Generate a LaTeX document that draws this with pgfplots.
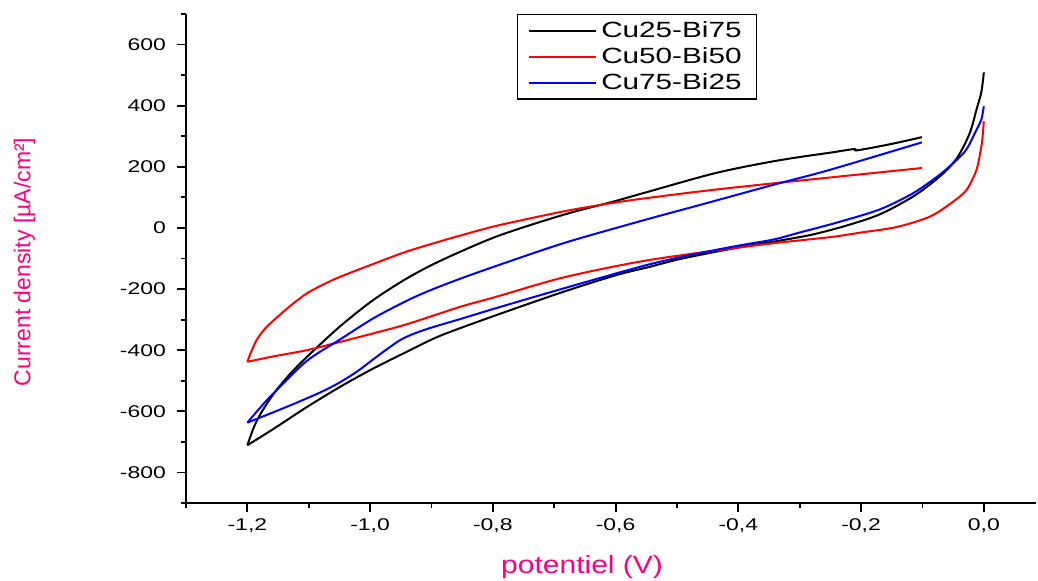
\documentclass[border=0pt]{standalone}
\usepackage{fontspec}
\setmainfont{Liberation Sans}
\newfontfamily\widefont[FakeStretch=1.35]{Liberation Sans}
\newfontfamily\labfont[FakeStretch=1.2]{Liberation Sans}
\usepackage{pgfplots}
\pgfplotsset{compat=1.18}
\definecolor{lblpink}{RGB}{255,0,128}
\definecolor{cvred}{RGB}{255,0,0}
\definecolor{cvblue}{RGB}{0,0,255}
\begin{document}
\begin{tikzpicture}
\path[use as bounding box] (-93pt,-38.5pt) rectangle (426pt,251.5pt);
\begin{axis}[
  at={(0pt,0pt)}, anchor=south west,
  scale only axis, width=425pt, height=244.5pt,
  xmin=-1.3, xmax=0.085, ymin=-900, ymax=700,
  axis x line=bottom, axis y line=left,
  axis line style={-, line width=1pt},
  tick align=outside,
  major tick length=4.5pt, minor tick length=2.5pt,
  tick style={black, line width=0.9pt},
  xtick={-1.2,-1,-0.8,-0.6,-0.4,-0.2,0},
  xticklabels={{-1,2},{-1,0},{-0,8},{-0,6},{-0,4},{-0,2},{0,0}},
  minor xtick={-1.3,-1.1,-0.9,-0.7,-0.5,-0.3,-0.1},
  ytick={-800,-600,-400,-200,0,200,400,600},
  yticklabels={-800,-600,-400,-200,0,200,400,600},
  minor ytick={-900,-700,-500,-300,-100,100,300,500,700},
  ticklabel style={font=\widefont\fontsize{8.5pt}{10pt}\selectfont},
  yticklabel style={xshift=-2pt},
  xlabel={potentiel (V)}, ylabel={Current density [µA/cm²]},
  xlabel style={at={(axis description cs:0.466,-0.131)}, anchor=center, font=\labfont\fontsize{12.5pt}{14pt}\selectfont, text=lblpink},
  ylabel style={at={(axis description cs:-0.19,0.493)}, anchor=center, font=\fontsize{11.5pt}{13pt}\selectfont, text=lblpink},
  legend style={at={(0.389,1.0)}, anchor=north west, draw=black, line width=0.6pt,
    font=\widefont\fontsize{11pt}{13pt}\selectfont, inner xsep=5.5pt, inner ysep=1.5pt,
    row sep=-0.6pt, cells={anchor=west}},
  legend image code/.code={\draw[#1, line width=1pt] (0pt,0pt) -- (33.5pt,0pt);},
]
% Cu25-Bi75 (black)
\addplot[black, line width=1pt, smooth] coordinates {
(0,509) (-0.004,445) (-0.012,387) (-0.023,310) (-0.044,228) (-0.072,168) (-0.115,103)
(-0.169,45) (-0.22,10) (-0.28,-22) (-0.343,-45) (-0.4,-64) (-0.452,-84) (-0.5,-104)
(-0.544,-127) (-0.6,-155) (-0.685,-209) (-0.794,-285) (-0.886,-353) (-0.94,-405)
(-0.995,-460) (-1.049,-520) (-1.103,-586) (-1.157,-657) (-1.2,-711)};
\addlegendentry{Cu25-Bi75}
\addplot[black, line width=1pt, smooth, forget plot] coordinates {
(-1.2,-711) (-1.19,-655) (-1.179,-610) (-1.157,-542) (-1.13,-477) (-1.103,-422)
(-1.049,-322) (-0.995,-236) (-0.94,-165) (-0.886,-108) (-0.794,-28) (-0.685,43)
(-0.604,86) (-0.56,111) (-0.452,172) (-0.4,196) (-0.343,218) (-0.3,232) (-0.251,246)
(-0.212,258) (-0.206,254) (-0.15,275) (-0.101,297)};
% Cu50-Bi50 (red)
\addplot[cvred, line width=1pt, smooth] coordinates {
(0,349) (-0.002,300) (-0.004,267) (-0.012,190) (-0.028,125) (-0.05,86) (-0.088,37)
(-0.142,3) (-0.2,-15) (-0.25,-30) (-0.343,-50) (-0.452,-78) (-0.56,-110) (-0.685,-162)
(-0.794,-225) (-0.853,-258) (-0.94,-315) (-0.995,-345) (-1.049,-373) (-1.103,-400)
(-1.157,-420) (-1.2,-438)};
\addlegendentry{Cu50-Bi50}
\addplot[cvred, line width=1pt, smooth, forget plot] coordinates {
(-1.2,-438) (-1.195,-411) (-1.185,-367) (-1.171,-329) (-1.157,-302) (-1.13,-255)
(-1.103,-214) (-1.076,-185) (-1.049,-160) (-0.995,-118) (-0.94,-77) (-0.886,-44)
(-0.853,-25) (-0.794,7) (-0.685,54) (-0.604,82) (-0.544,99) (-0.452,122)
(-0.343,146) (-0.251,165) (-0.101,196)};
% Cu75-Bi25 (blue)
\addplot[cvblue, line width=1pt, smooth] coordinates {
(0,398) (-0.004,355) (-0.012,321) (-0.028,258) (-0.044,223) (-0.072,174) (-0.115,114)
(-0.169,61) (-0.235,20) (-0.3,-15) (-0.343,-38) (-0.4,-58) (-0.452,-78) (-0.5,-98)
(-0.56,-127) (-0.685,-198) (-0.794,-262) (-0.853,-298) (-0.9,-326) (-0.93,-347)
(-0.951,-367) (-0.97,-393) (-0.995,-430) (-1.02,-468) (-1.05,-506) (-1.08,-537)
(-1.12,-572) (-1.16,-605) (-1.2,-637)};
\addlegendentry{Cu75-Bi25}
\addplot[cvblue, line width=1pt, smooth, forget plot] coordinates {
(-1.2,-637) (-1.18,-590) (-1.157,-540) (-1.103,-435) (-1.049,-365) (-0.995,-296)
(-0.94,-238) (-0.902,-204) (-0.853,-166) (-0.794,-124) (-0.685,-50) (-0.56,22) (-0.452,81)
(-0.343,141) (-0.251,190) (-0.101,280)};
\end{axis}
\end{tikzpicture}
\end{document}
